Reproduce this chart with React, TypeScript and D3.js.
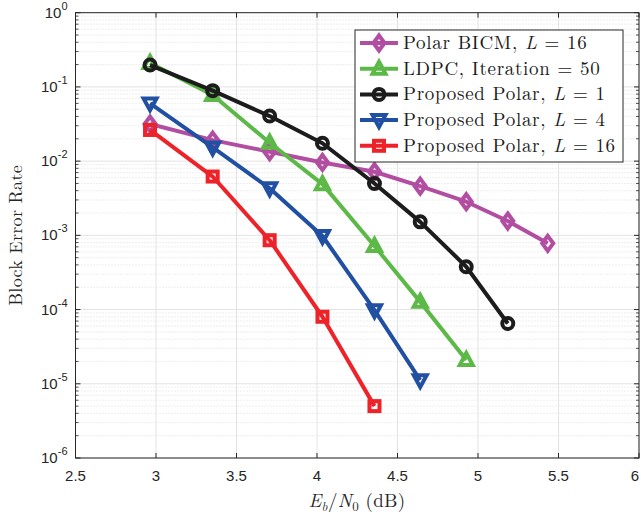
import React from 'react';
import * as d3 from 'd3';

// Eb/N0 sample points (dB)
const ebn0 = [2.963, 3.352, 3.706, 4.034, 4.357, 4.641, 4.927, 5.185, 5.433];

const bicmL16 = [0.0316, 0.0192, 0.0134, 0.0096, 0.0072, 0.0046, 0.00284, 0.00156, 0.00078];
const ldpcIter50 = [0.21, 0.078, 0.0177, 0.0049, 0.00072, 0.000127, 2.09e-5];
const propL1 = [0.197, 0.089, 0.0405, 0.0174, 0.005, 0.00152, 0.000378, 6.5e-5];
const propL4 = [0.06, 0.0153, 0.0043, 0.00098, 9.8e-5, 1.12e-5];
const propL16 = [0.0263, 0.0062, 0.00086, 8.0e-5, 5.0e-6];

const xTicks = [2.5, 3, 3.5, 4, 4.5, 5, 5.5, 6];
const yExps = [0, -1, -2, -3, -4, -5, -6];

const series = [
  { name: 'Polar BICM, ', tail: ' = 16', values: bicmL16, color: '#b24ea2', marker: 'diamond' },
  { name: 'LDPC, Iteration = 50', tail: null, values: ldpcIter50, color: '#5cb947', marker: 'triangle' },
  { name: 'Proposed Polar, ', tail: ' = 1', values: propL1, color: '#1c1c1c', marker: 'circle' },
  { name: 'Proposed Polar, ', tail: ' = 4', values: propL4, color: '#2150a2', marker: 'down' },
  { name: 'Proposed Polar, ', tail: ' = 16', values: propL16, color: '#ee2229', marker: 'square' },
];

const W = 641, H = 515;
const m = { left: 75.5, right: 639, top: 12.7, bottom: 458 };

function Marker({ type, x, y, color }: { type: string; x: number; y: number; color: string }) {
  const sw = 4;
  if (type === 'circle') return <circle cx={x} cy={y} r={5.5} fill="none" stroke={color} strokeWidth={sw} />;
  if (type === 'square') return <rect x={x - 5} y={y - 5} width={10} height={10} fill="none" stroke={color} strokeWidth={sw} />;
  if (type === 'diamond') return <path d={`M${x},${y - 7.5}L${x + 5.5},${y}L${x},${y + 7.5}L${x - 5.5},${y}Z`} fill="none" stroke={color} strokeWidth={sw} />;
  if (type === 'triangle') return <path d={`M${x},${y - 7}L${x + 6.5},${y + 5}L${x - 6.5},${y + 5}Z`} fill="none" stroke={color} strokeWidth={sw} />;
  return <path d={`M${x},${y + 7}L${x + 6.5},${y - 5}L${x - 6.5},${y - 5}Z`} fill="none" stroke={color} strokeWidth={sw} />;
}

export default function App() {
  const x = d3.scaleLinear().domain([2.5, 6]).range([m.left, m.right]);
  const y = d3.scaleLog().domain([1e-6, 1]).range([m.bottom, m.top]);
  const line = d3.line<[number, number]>().x(d => x(d[0])).y(d => y(d[1]));

  const minor: number[] = [];
  for (let e = -6; e < 0; e++) for (let k = 2; k <= 9; k++) minor.push(k * Math.pow(10, e));

  const tickFont = 'Helvetica, "Liberation Sans", Arial, sans-serif';
  const serif = '"Latin Modern Roman", "Liberation Serif", "DejaVu Serif", serif';

  return (
    <svg width={W} height={H} style={{ position: 'absolute', left: 0, top: 0, background: '#fff' }}>
      {/* minor grid */}
      {minor.map((v, i) => (
        <line key={'mg' + i} x1={m.left} x2={m.right} y1={y(v)} y2={y(v)} stroke="#d6d6d6" strokeWidth={0.8} strokeDasharray="1,2" />
      ))}
      {/* major grid */}
      {yExps.map(e => (
        <line key={'yg' + e} x1={m.left} x2={m.right} y1={y(Math.pow(10, e))} y2={y(Math.pow(10, e))} stroke="#e3e3e3" strokeWidth={1} />
      ))}
      {xTicks.map(t => (
        <line key={'xg' + t} x1={x(t)} x2={x(t)} y1={m.top} y2={m.bottom} stroke="#e3e3e3" strokeWidth={1} />
      ))}
      {/* box */}
      <rect x={m.left} y={m.top} width={m.right - m.left} height={m.bottom - m.top} fill="none" stroke="#262626" strokeWidth={1} />
      {/* ticks */}
      {xTicks.map(t => (
        <g key={'xt' + t}>
          <line x1={x(t)} x2={x(t)} y1={m.bottom} y2={m.bottom - 5} stroke="#262626" />
          <line x1={x(t)} x2={x(t)} y1={m.top} y2={m.top + 5} stroke="#262626" />
          <text x={t === 6 ? x(t) - 4 : x(t)} y={m.bottom + 23} textAnchor="middle" fontFamily={tickFont} fontSize={15} fill="#262626">{t}</text>
        </g>
      ))}
      {yExps.map(e => (
        <g key={'yt' + e}>
          <line x1={m.left} x2={m.left + 5} y1={y(Math.pow(10, e))} y2={y(Math.pow(10, e))} stroke="#262626" />
          <line x1={m.right} x2={m.right - 5} y1={y(Math.pow(10, e))} y2={y(Math.pow(10, e))} stroke="#262626" />
          <text x={m.left - 8} y={y(Math.pow(10, e)) + 5} textAnchor="end" fontFamily={tickFont} fontSize={15} fill="#262626">
            10<tspan dy={-8} fontSize={11}>{e}</tspan>
          </text>
        </g>
      ))}
      {minor.map((v, i) => (
        <g key={'mt' + i}>
          <line x1={m.left} x2={m.left + 3} y1={y(v)} y2={y(v)} stroke="#262626" strokeWidth={0.8} />
          <line x1={m.right} x2={m.right - 3} y1={y(v)} y2={y(v)} stroke="#262626" strokeWidth={0.8} />
        </g>
      ))}
      {/* series */}
      {series.map(s => {
        const pts = s.values.map((v, i) => [ebn0[i], v] as [number, number]);
        return (
          <g key={s.name + s.tail}>
            <path d={line(pts) || ''} fill="none" stroke={s.color} strokeWidth={4} strokeLinejoin="round" />
            {pts.map((p, i) => <Marker key={i} type={s.marker} x={x(p[0])} y={y(p[1])} color={s.color} />)}
          </g>
        );
      })}
      {/* legend */}
      <g>
        <rect x={355} y={30} width={268} height={132} fill="#fff" stroke="#262626" strokeWidth={1} />
        {series.map((s, i) => {
          const ly = 43 + i * 25.7;
          return (
            <g key={'lg' + i}>
              <line x1={360} x2={398} y1={ly} y2={ly} stroke={s.color} strokeWidth={4} />
              <Marker type={s.marker} x={379} y={ly} color={s.color} />
              <text x={403} y={ly + 6} fontFamily={serif} fontSize={19} letterSpacing={0.7} fill="#1a1a1a">
                {s.name}
                {s.tail !== null && <tspan fontStyle="italic">L</tspan>}
                {s.tail}
              </text>
            </g>
          );
        })}
      </g>
      {/* axis labels */}
      <text transform={`translate(22,${(m.top + m.bottom) / 2}) rotate(-90)`} textAnchor="middle" fontFamily={serif} fontSize={18} letterSpacing={0.3} fill="#262626">Block Error Rate</text>
      <text x={357} y={507} textAnchor="middle" fontFamily={serif} fontSize={19} letterSpacing={0.3} fill="#262626">
        <tspan fontStyle="italic">E</tspan><tspan fontStyle="italic" fontSize={13} dy={4}>b</tspan>
        <tspan dy={-4}>/</tspan><tspan fontStyle="italic">N</tspan><tspan fontSize={13} dy={4}>0</tspan>
        <tspan dy={-4}> (dB)</tspan>
      </text>
    </svg>
  );
}
